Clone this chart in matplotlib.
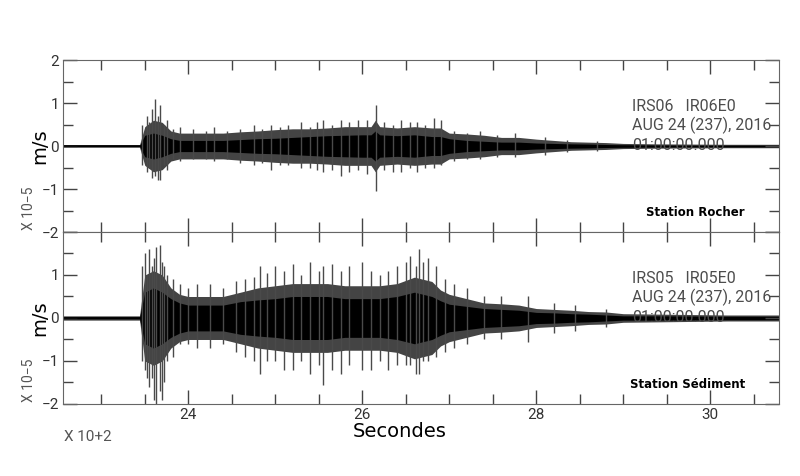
import matplotlib.pyplot as plt
from matplotlib.ticker import MultipleLocator

# time in units of 10^2 s, amplitudes in units of 10^-5 m/s
t = [22.56, 23.44, 23.5, 23.6, 23.7, 23.8, 23.9, 24.0, 24.2, 24.4, 24.6, 24.8, 25.0,
     25.2, 25.4, 25.6, 25.8, 26.0, 26.1, 26.15, 26.2, 26.4, 26.6, 26.8, 26.9, 27.0,
     27.2, 27.4, 27.6, 27.8, 28.0, 28.2, 28.4, 28.6, 28.8, 29.0, 29.4, 29.8, 30.2, 30.8]

top_up = [0.03, 0.03, 0.45, 0.6, 0.55, 0.35, 0.3, 0.3, 0.3, 0.3, 0.33, 0.35, 0.38,
          0.4, 0.4, 0.42, 0.45, 0.45, 0.45, 0.6, 0.45, 0.42, 0.45, 0.42, 0.42, 0.3,
          0.28, 0.25, 0.2, 0.2, 0.16, 0.13, 0.1, 0.09, 0.08, 0.06, 0.05, 0.045, 0.04, 0.04]
top_dn = [-v for v in top_up]
top_core = [0.01, 0.01, 0.25, 0.3, 0.25, 0.17, 0.13, 0.13, 0.13, 0.13, 0.15, 0.17, 0.18,
            0.2, 0.22, 0.24, 0.25, 0.26, 0.26, 0.35, 0.26, 0.24, 0.26, 0.22, 0.22, 0.17,
            0.13, 0.11, 0.09, 0.09, 0.07, 0.06, 0.05, 0.045, 0.035, 0.03, 0.025, 0.02, 0.02, 0.02]

bot_up = [0.05, 0.05, 1.0, 1.1, 1.0, 0.7, 0.55, 0.5, 0.5, 0.5, 0.6, 0.7, 0.75,
          0.8, 0.8, 0.8, 0.75, 0.75, 0.75, 0.75, 0.75, 0.8, 0.95, 0.85, 0.65, 0.55,
          0.45, 0.35, 0.33, 0.3, 0.22, 0.2, 0.18, 0.15, 0.14, 0.1, 0.09, 0.08, 0.07, 0.07]
bot_dn = [-v for v in bot_up]
bot_core = [0.02, 0.02, 0.6, 0.7, 0.6, 0.45, 0.35, 0.3, 0.3, 0.3, 0.38, 0.42, 0.45,
            0.5, 0.5, 0.5, 0.45, 0.45, 0.45, 0.45, 0.45, 0.5, 0.6, 0.5, 0.4, 0.32,
            0.27, 0.22, 0.2, 0.18, 0.13, 0.12, 0.1, 0.09, 0.07, 0.05, 0.05, 0.045, 0.04, 0.04]

# individual spikes
top_spk_t = [23.47, 23.52, 23.55, 23.58, 23.62, 23.65, 23.68, 23.72, 23.75, 23.82, 23.9, 24.05,
             24.2, 24.3, 24.45, 24.6, 24.75, 24.85, 24.95, 25.05, 25.15, 25.3, 25.4, 25.48,
             25.55, 25.65, 25.75, 25.85, 25.95, 26.05, 26.16, 26.25, 26.35, 26.45, 26.55,
             26.63, 26.72, 26.82, 26.9, 27.05, 27.2, 27.35, 27.55, 27.75, 28.1, 28.35, 28.7]
top_spk_hi = [0.5, 0.7, 0.55, 0.85, 1.1, 0.7, 0.95, 0.5, 0.6, 0.4, 0.45, 0.4,
              0.35, 0.45, 0.35, 0.4, 0.5, 0.4, 0.5, 0.45, 0.5, 0.55, 0.45, 0.55,
              0.6, 0.5, 0.6, 0.55, 0.6, 0.6, 0.95, 0.55, 0.5, 0.6, 0.55,
              0.55, 0.5, 0.65, 0.6, 0.35, 0.3, 0.35, 0.25, 0.3, 0.2, 0.15, 0.12]
top_spk_lo = [-0.45, -0.6, -0.5, -0.75, -0.7, -0.8, -0.8, -0.45, -0.55, -0.3, -0.35, -0.3,
              -0.3, -0.35, -0.3, -0.4, -0.45, -0.4, -0.55, -0.45, -0.45, -0.5, -0.5, -0.55,
              -0.6, -0.55, -0.7, -0.6, -0.55, -0.65, -1.05, -0.55, -0.6, -0.6, -0.5,
              -0.6, -0.5, -0.5, -0.45, -0.35, -0.3, -0.3, -0.25, -0.25, -0.2, -0.15, -0.12]
bot_spk_t = [23.47, 23.5, 23.52, 23.55, 23.58, 23.61, 23.63, 23.67, 23.7, 23.72, 23.76, 23.82,
             23.9, 24.0, 24.1, 24.25, 24.4, 24.55, 24.65, 24.75, 24.82, 24.9, 25.0, 25.1,
             25.2, 25.3, 25.4, 25.5, 25.55, 25.65, 25.75, 25.85, 26.0, 26.1, 26.2, 26.3,
             26.4, 26.5, 26.55, 26.62, 26.65, 26.7, 26.75, 26.85, 26.95, 27.05, 27.2,
             27.4, 27.6, 27.9, 28.2, 28.45, 28.8]
bot_spk_hi = [1.2, 1.5, 1.0, 1.6, 1.2, 1.4, 1.65, 1.7, 1.3, 1.2, 1.0, 0.9,
              0.8, 0.7, 0.8, 0.8, 0.7, 0.85, 0.9, 0.95, 1.2, 1.05, 1.2, 1.1,
              1.25, 1.0, 1.3, 1.1, 1.2, 1.25, 1.1, 1.2, 1.3, 1.1, 1.0, 1.1,
              1.2, 1.3, 1.45, 1.2, 1.6, 1.3, 1.4, 1.2, 0.9, 0.8, 0.7,
              0.5, 0.5, 0.5, 0.35, 0.3, 0.2]
bot_spk_lo = [-1.0, -1.2, -1.4, -1.6, -1.4, -1.9, -2.0, -1.7, -1.9, -1.5, -1.0, -0.9,
              -0.6, -0.6, -0.7, -0.7, -0.6, -0.8, -0.9, -1.0, -1.3, -1.0, -1.0, -1.2,
              -1.2, -1.0, -1.3, -1.1, -1.55, -1.2, -1.3, -1.1, -1.2, -1.2, -1.0, -1.2,
              -1.1, -1.1, -1.1, -1.3, -1.3, -1.0, -1.0, -0.9, -0.8, -0.7, -0.6,
              -0.5, -0.5, -0.55, -0.35, -0.3, -0.2]

fig = plt.figure(figsize=(8, 4.76), dpi=100)
ax_top = fig.add_axes([0.07875, 0.5126, 0.895, 0.3613])
ax_bot = fig.add_axes([0.07875, 0.1513, 0.895, 0.3613], sharex=ax_top)

tick_col = "#444444"
num_font = "Roboto"
panels = [
    (ax_top, top_up, top_dn, top_core, top_spk_t, top_spk_hi, top_spk_lo,
     ["IRS06   IR06E0", "AUG 24 (237), 2016", "01:00:00.000"], "Station Rocher"),
    (ax_bot, bot_up, bot_dn, bot_core, bot_spk_t, bot_spk_hi, bot_spk_lo,
     ["IRS05   IR05E0", "AUG 24 (237), 2016", "01:00:00.000"], "Station Sédiment"),
]
for ax, up, dn, core, st, shi, slo, header, station in panels:
    ax.vlines(st, slo, shi, color="#4a4a4a", lw=1.0)
    ax.fill_between(t, dn, up, color="#444444", lw=0)
    ax.fill_between(t, [-c for c in core], core, color="black", lw=0)
    ax.plot([t[0], t[1]], [0, 0], color="black", lw=1.2)
    ax.set_xlim(22.56, 30.79)
    ax.set_ylim(-2, 2)
    ax.xaxis.set_major_locator(MultipleLocator(2))
    ax.xaxis.set_minor_locator(MultipleLocator(0.5))
    ax.yaxis.set_minor_locator(MultipleLocator(0.5))
    ax.tick_params(which="both", direction="in", top=True, right=True,
                   color=tick_col, labelcolor="#333333", labelsize=11, pad=3)
    ax.tick_params(which="major", length=10, width=1)
    ax.tick_params(which="minor", length=7, width=1)
    for s in ax.spines.values():
        s.set_color("#666666")
    for i, line in enumerate(header):
        ax.text(29.1, 0.92 - i * 0.45, line, fontsize=11.5, color="#4d4d4d",
                fontfamily=num_font, va="center")
    ax.text(30.4, -1.55, station, fontsize=8.5, fontweight="bold", ha="right", va="center")
    ax.text(-0.033, 0.5, "m/s", transform=ax.transAxes, rotation=90, fontsize=14,
            ha="center", va="center")
    ax.text(-0.048, 0.14, "X 10\u22125", transform=ax.transAxes, rotation=90, fontsize=10,
            color="#555555", ha="center", va="center", fontfamily=num_font)

ax_top.tick_params(labelbottom=False)
ax_top.set_yticks([-2, -1, 0, 1, 2])
ax_top.set_yticklabels(["\u22122", "\u22121", "0", "1", "2"], fontfamily=num_font)
ax_bot.set_yticks([-2, -1, 0, 1, 2])
ax_bot.set_yticklabels(["\u22122", "\u22121", "0", "1", ""], fontfamily=num_font)
ax_bot.set_xticks([24, 26, 28, 30])
ax_bot.set_xticklabels(["24", "26", "28", "30"], fontfamily=num_font)
fig.text(0.08, 0.082, "X 10+2", fontsize=11, color="#555555", fontfamily=num_font, va="center")
fig.text(0.5, 0.093, "Secondes", fontsize=14, ha="center", va="center")

fig.savefig("out.png", dpi=100)
